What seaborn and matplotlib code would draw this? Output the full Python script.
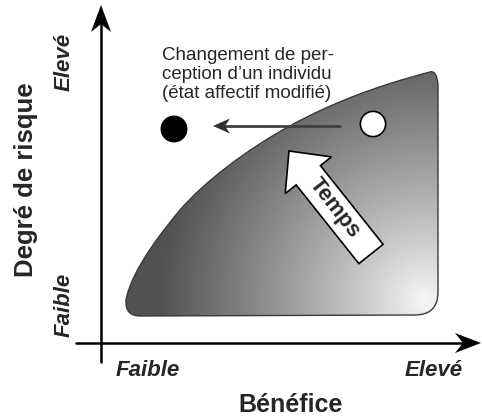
import numpy as np
import pandas as pd
import matplotlib
matplotlib.use("Agg")
import matplotlib.pyplot as plt
import seaborn as sns
from matplotlib.path import Path
from matplotlib.patches import PathPatch, FancyArrow

# ---------------- content ----------------
y_title = "Degré de risque"
x_title = "Bénéfice"
level_low = "Faible"
level_high = "Elevé"
note_text = "Changement de per-\nception d\u2019un individu\n(état affectif modifié)"
time_text = "Temps"

# two perception states (benefit, risk) in diagram units
states = ["modifié", "initial"]
state_benefit = [174, 373]
state_risk = [129, 124]

sns.set_theme(style="white")
plt.rcParams['font.family'] = ['Liberation Sans', 'DejaVu Sans']

fig = plt.figure(figsize=(4.82, 4.2), dpi=100)
ax = fig.add_axes([0, 0, 1, 1])

# ---------------- shaded region ----------------
M, L, C3, C4, CL = Path.MOVETO, Path.LINETO, Path.CURVE3, Path.CURVE4, Path.CLOSEPOLY
verts = [(140, 316), (415, 315), (438, 315), (438, 292), (438, 85), (437, 70), (430, 72),
         (380, 85), (333, 102), (288, 127),
         (248, 149), (205, 181), (180, 210),
         (166, 227), (132, 268), (126, 300),
         (125, 316), (140, 316), (140, 316)]
codes = [M, L, C3, C3, L, C3, C3, C4, C4, C4, C4, C4, C4, C4, C4, C4, C3, C3, CL]
region = Path(verts, codes)

xs = np.linspace(115, 445, 330)
ys = np.linspace(60, 325, 265)
X, Y = np.meshgrid(xs, ys)
d = np.hypot(X - 425, Y - 300)
t = np.clip(d / 265, 0, 1)
g = 0.97 - 0.65 * t ** 0.9
im = ax.imshow(g, cmap='gray', vmin=0, vmax=1, extent=[115, 445, 325, 60],
               origin='upper', interpolation='bilinear', zorder=1)
patch = PathPatch(region, fc='none', ec='#3a3a3a', lw=1.0, zorder=2)
ax.add_patch(patch)
im.set_clip_path(patch)


def head(tip, direction, length, width, notch, color):
    tip = np.array(tip, float)
    dvec = np.array(direction, float)
    dvec /= np.hypot(*dvec)
    n = np.array([-dvec[1], dvec[0]])
    base = tip - dvec * length
    inner = tip - dvec * (length - notch)
    pts = np.array([tip, base + n * width / 2, inner, base - n * width / 2])
    ax.fill(pts[:, 0], pts[:, 1], color=color, lw=0, zorder=6)


# axes with arrows
ax.plot([101, 101], [362, 20], color='black', lw=1.8, zorder=3)
head((101, 5), (0, -1), 27, 20, 8, 'black')
ax.plot([76, 465], [343, 343], color='black', lw=1.8, zorder=3)
head((481, 343), (1, 0), 26, 20, 8, 'black')

# perception change arrow
ax.plot([340, 222], [126, 126], color='#404040', lw=2, zorder=3)
head((213, 126), (-1, 0), 17, 15, 5, '#303030')

# time arrow
ax.add_patch(FancyArrow(371, 254, -82, -103, width=31, head_width=59, head_length=31,
                        length_includes_head=True, fc='white', ec='black', lw=1.2, zorder=4))

# state points
df = pd.DataFrame({'state': states, 'benefit': state_benefit, 'risk': state_risk})
sns.scatterplot(data=df, x='benefit', y='risk', hue='state',
                palette={'modifié': 'black', 'initial': 'white'},
                s=330, edgecolor='black', linewidth=1.2, legend=False, ax=ax, zorder=5)

# texts
ax.text(26, 180, y_title, rotation=90, ha='center', va='center', fontsize=18.5, fontweight='bold')
ax.text(64, 62, level_high, rotation=90, ha='center', va='center', fontsize=16,
        fontstyle='italic', fontweight='bold')
ax.text(64, 305, level_low, rotation=90, ha='center', va='center', fontsize=16,
        fontstyle='italic', fontweight='bold')
ax.text(148, 370, level_low, ha='center', va='center', fontsize=16,
        fontstyle='italic', fontweight='bold')
ax.text(434, 370, level_high, ha='center', va='center', fontsize=16,
        fontstyle='italic', fontweight='bold')
ax.text(291, 405, x_title, ha='center', va='center', fontsize=18, fontweight='bold')
ax.text(162, 98, note_text, ha='left', va='baseline', fontsize=13.5, linespacing=1.17)
ax.text(335, 208, time_text, rotation=-52, rotation_mode='anchor', ha='center', va='center',
        fontsize=16, fontweight='bold', zorder=7)

ax.set_xlim(0, 482)
ax.set_ylim(420, 0)
ax.set_aspect('equal')
ax.axis('off')

fig.savefig('out.png', dpi=100)
